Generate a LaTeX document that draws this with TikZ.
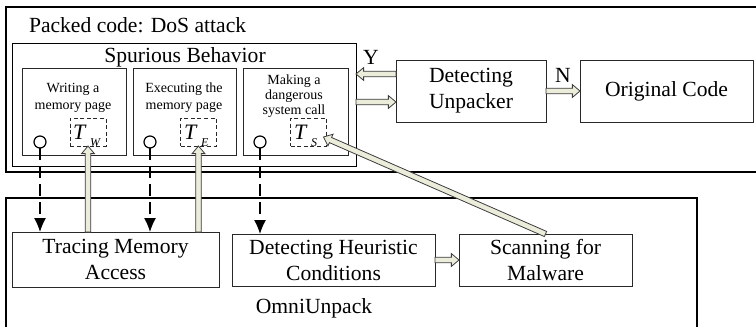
\documentclass[tikz,border=0pt]{standalone}
\usepackage{fontspec}
\setmainfont{Liberation Serif}
\usetikzlibrary{shapes.arrows,calc,arrows.meta}
\definecolor{afill}{RGB}{236,236,218}
\definecolor{aline}{RGB}{60,60,60}
\definecolor{bline}{RGB}{40,40,40}
\tikzset{
 big/.style={font=\fontsize{10.8}{13}\selectfont},
 small/.style={font=\fontsize{7}{8.5}\selectfont},
 smallb/.style={font=\fontsize{7}{7.4}\selectfont},
 box/.style={draw=bline, line width=0.5pt, inner sep=0pt, outer sep=0pt, align=center},
 frame/.style={draw=black, line width=0.7pt, inner sep=0pt, outer sep=0pt, anchor=north west},
 dbox/.style={draw=bline, line width=0.5pt, dash pattern=on 2pt off 1.3pt, minimum width=18pt, minimum height=14pt, inner sep=0pt, outer sep=0pt},
 probe/.style={circle, draw=black, line width=0.6pt, minimum size=6pt, inner sep=0pt, outer sep=0pt},
 dasharr/.style={draw=black, line width=0.6pt, dash pattern=on 6pt off 3pt, -{Latex[length=7pt,width=6pt]}},
 blockarrow/.style={single arrow, draw=aline, fill=afill, line width=0.4pt, inner sep=0pt, inner ysep=1.2pt, outer sep=0pt, single arrow head extend=1.8pt, single arrow tip angle=80},
 lab/.style={inner sep=0pt, outer sep=0pt},
}
\newcommand\blk[2]{%
  \path let \p1=(#1), \p2=(#2),
    \n1={atan2(\y2-\y1,\x2-\x1)},
    \n2={veclen(\x2-\x1,\y2-\y1)} in
    node[blockarrow, minimum height=\n2, rotate=\n1, anchor=tail] at (\p1) {};}
\newcommand\tlab[1]{{\fontsize{11}{11}\selectfont\itshape T}\hspace{2.5pt}\raisebox{-3.5pt}{\fontsize{6}{6}\selectfont\itshape #1}}
\begin{document}
\begin{tikzpicture}[x=0.5pt,y=-0.5pt]
\useasboundingbox (0,0) rectangle (756,327);
\clip (0,0) rectangle (756,327);
% outer frames
\node[frame, minimum width=380pt, minimum height=82.5pt] (packed) at (6,7) {};
\node[big, lab, anchor=base west] (packedl) at (29,32) {Packed code: DoS attack};
\node[frame, line width=0.5pt, minimum width=172pt, minimum height=61.5pt] (spur) at (12,43) {};
\node[big, lab, anchor=base] (spurl) at (185,62) {Spurious Behavior};
% sub boxes
\node[box, minimum width=52pt, minimum height=43.5pt] (b1) at (74,111.5) {};
\node[box, minimum width=51.5pt, minimum height=43.5pt] (b2) at (184.5,111.5) {};
\node[box, minimum width=52.5pt, minimum height=43.5pt] (b3) at (295.5,111.5) {};
\node[small, lab, align=center] (b1t) at (73,98) {Writing a\\memory page};
\node[small, lab, align=center] (b2t) at (184,98) {Executing the\\memory page};
\node[smallb, lab, align=center] (b3t) at (294,96) {Making a\\dangerous\\system call};
% T boxes
\node[dbox] (tw) at (88,132) {};
\node[dbox] (te) at (198.5,132) {};
\node[dbox] (ts) at (308.5,132) {};
\node[lab, anchor=base west] (twl) at (73,139) {\tlab{W}};
\node[lab, anchor=base west] (tel) at (184,139) {\tlab{E}};
\node[lab, anchor=base west] (tsl) at (294,139) {\tlab{S}};
% probes
\node[probe] (c1) at (40,142) {};
\node[probe] (c2) at (150,142) {};
\node[probe] (c3) at (260,142) {};
% OmniUnpack
\node[frame, minimum width=345.5pt, minimum height=80pt] (omni) at (6,198) {};
\node[big, lab, anchor=base] (omnil) at (314,313) {OmniUnpack};
\node[box, big, minimum width=103.5pt, minimum height=27.5pt] (trace) at (115.5,259.5) {Tracing Memory\\Access};
\node[box, big, minimum width=101.5pt, minimum height=26pt] (heur) at (333.5,260) {Detecting Heuristic\\Conditions};
\node[box, big, minimum width=86.5pt, minimum height=26pt] (scan) at (545.5,260) {Scanning for\\Malware};
% right side
\node[box, big, minimum width=75pt, minimum height=31pt] (unp) at (471,91) {Detecting\\Unpacker};
\node[box, big, minimum width=86.5pt, minimum height=31pt] (orig) at (666.5,91) {Original Code};
\node[big, lab] (ylab) at (371,57) {Y};
\node[big, lab] (nlab) at (563,75) {N};
% dashed arrows
\draw[dasharr] (c1.south) -- (c1.south |- trace.north);
\draw[dasharr] (c2.south) -- (c2.south |- trace.north);
\draw[dasharr] (c3.south) -- (c3.south |- heur.north);
% block arrows
\coordinate (yl) at (0,74);
\coordinate (nl) at (0,102);
\blk{unp.west |- yl}{spur.east |- yl}
\blk{spur.east |- nl}{unp.west |- nl}
\blk{unp.east}{orig.west}
\blk{heur.east}{scan.west}
\blk{tw.south |- trace.north}{tw.south}
\blk{te.south |- trace.north}{te.south}
\coordinate (tsin) at ($(ts.east)+(-3,5)$);
\blk{scan.north}{tsin}
\end{tikzpicture}
\end{document}
